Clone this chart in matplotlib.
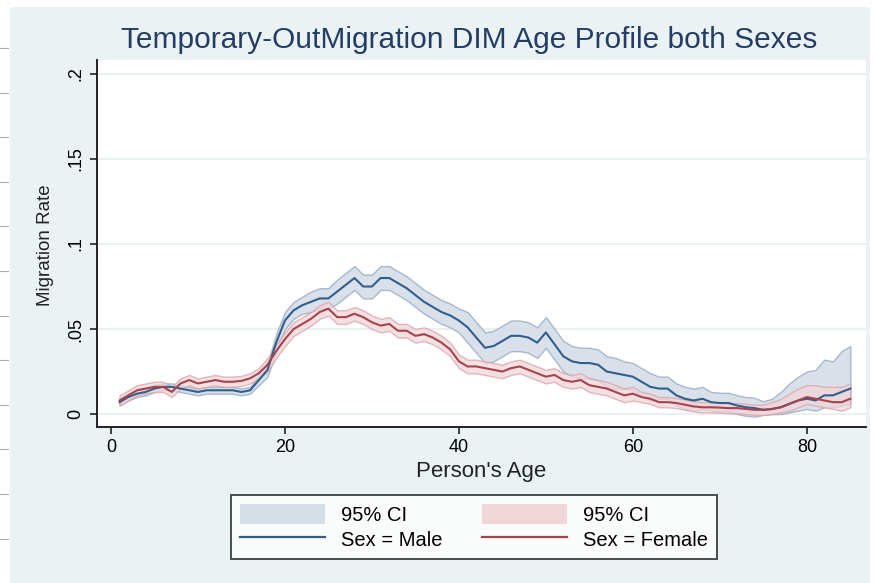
import numpy as np
import matplotlib
matplotlib.use("Agg")
import matplotlib.pyplot as plt
from matplotlib.patches import Rectangle, Patch
from matplotlib.lines import Line2D

plt.rcParams['font.family'] = ['Liberation Sans', 'DejaVu Sans']

# Data (age 1..85)
age = list(range(1, 86))

male = [0.007, 0.010, 0.012, 0.013, 0.015, 0.016, 0.016, 0.015, 0.014, 0.013,
        0.014, 0.014, 0.014, 0.014, 0.013, 0.014, 0.020, 0.026, 0.042, 0.055,
        0.061, 0.064, 0.066, 0.068, 0.068, 0.072, 0.076, 0.080, 0.075, 0.075,
        0.080, 0.080, 0.077, 0.074, 0.070, 0.066, 0.063, 0.060, 0.058, 0.055,
        0.051, 0.045, 0.039, 0.040, 0.043, 0.046, 0.046, 0.045, 0.042, 0.048,
        0.041, 0.034, 0.031, 0.030, 0.030, 0.029, 0.025, 0.024, 0.023, 0.022,
        0.019, 0.016, 0.015, 0.015, 0.011, 0.009, 0.008, 0.009, 0.007, 0.0065,
        0.0065, 0.005, 0.004, 0.0035, 0.0025, 0.003, 0.004, 0.006, 0.008, 0.009,
        0.008, 0.011, 0.011, 0.013, 0.015]

female = [0.008, 0.011, 0.014, 0.015, 0.016, 0.016, 0.013, 0.018, 0.020, 0.018,
          0.019, 0.020, 0.019, 0.019, 0.0195, 0.021, 0.024, 0.029, 0.037, 0.044,
          0.050, 0.053, 0.056, 0.060, 0.062, 0.057, 0.057, 0.059, 0.057, 0.054,
          0.052, 0.053, 0.049, 0.049, 0.046, 0.047, 0.045, 0.042, 0.038, 0.031,
          0.028, 0.028, 0.027, 0.026, 0.025, 0.027, 0.028, 0.026, 0.024, 0.022,
          0.023, 0.020, 0.019, 0.020, 0.017, 0.016, 0.015, 0.013, 0.011, 0.012,
          0.010, 0.009, 0.007, 0.007, 0.0065, 0.0055, 0.0045, 0.004, 0.004, 0.0038,
          0.0035, 0.0035, 0.003, 0.0025, 0.0025, 0.003, 0.004, 0.006, 0.008, 0.010,
          0.009, 0.008, 0.007, 0.007, 0.009]

# 95% CI distance above / below the line
male_up = [0.002] * 16 + [0.003, 0.004, 0.005, 0.005, 0.005, 0.005, 0.006, 0.006, 0.006] \
    + [0.007] * 15 + [0.009] * 18 + [0.008] * 4 + [0.007] * 6 + [0.006] * 6 \
    + [0.005, 0.006, 0.009, 0.012, 0.014, 0.016, 0.018, 0.021, 0.020, 0.024, 0.025]
male_dn = [0.002] * 16 + [0.003, 0.004, 0.005, 0.005, 0.005, 0.005, 0.006, 0.006, 0.006] \
    + [0.007] * 15 + [0.009] * 18 + [0.008] * 4 + [0.006] * 6 + [0.005] * 6 \
    + [0.003, 0.003, 0.004, 0.005, 0.006, 0.006, 0.006, 0.007, 0.007, 0.008, 0.009]
female_up = [0.003] * 17 + [0.004] * 43 + [0.003] * 15 \
    + [0.004, 0.005, 0.006, 0.007, 0.007, 0.008, 0.008, 0.009, 0.009, 0.009]
female_dn = [0.003] * 17 + [0.004] * 43 + [0.003] * 15 \
    + [0.003, 0.003, 0.004, 0.004, 0.004, 0.004, 0.004, 0.004, 0.005, 0.005]

xticks = [0, 20, 40, 60, 80]
yticks = [0, 0.05, 0.1, 0.15, 0.2]
ytick_labels = ['0', '.05', '.1', '.15', '.2']

W, H = 874, 583
bg = '#eaf2f3'
male_col, female_col = '#2f5f8e', '#a8424c'
male_fill, female_fill = '#d5dde7', '#f0d6d9'

fig = plt.figure(figsize=(W / 100, H / 100), dpi=100, facecolor='white')
fig.patches.append(Rectangle((10 / W, 0), 860 / W, 576 / H, transform=fig.transFigure,
                             facecolor=bg, edgecolor='none', zorder=-10))
# screenshot margin ticks on the left
for k in range(12):
    yy = 1 - (48 + 44.6 * k) / H
    fig.add_artist(Line2D([0, 8 / W], [yy, yy], transform=fig.transFigure, color='#a9b0b5', lw=0.8))

ax = fig.add_axes([97 / W, (H - 427) / H, (866 - 97) / W, (427 - 60) / H])
ax.set_facecolor('white')

a = np.array(age)
m = np.array(male)
f = np.array(female)
ax.fill_between(a, m - np.array(male_dn), m + np.array(male_up), facecolor=male_fill,
                edgecolor='#9fb3c8', lw=1.0, alpha=0.9, zorder=2)
ax.fill_between(a, f - np.array(female_dn), f + np.array(female_up), facecolor=female_fill,
                edgecolor='#dba2a8', lw=1.0, alpha=0.75, zorder=3)
ax.plot(a, m, color=male_col, lw=1.5, zorder=4)
ax.plot(a, f, color=female_col, lw=1.5, zorder=5)

ax.set_xlim(-1.6, 86.8)
ax.set_ylim(-0.0076, 0.2082)
ax.set_xticks(xticks)
ax.set_yticks(yticks)
ax.set_yticklabels(ytick_labels, rotation=90, va='center')
ax.tick_params(axis='both', length=5, width=1.2, color='#222222', labelsize=13, pad=4)
ax.yaxis.grid(True, color='#e8f0f2', lw=1.3)
ax.set_axisbelow(True)
for s in ['top', 'right']:
    ax.spines[s].set_visible(False)
for s in ['left', 'bottom']:
    ax.spines[s].set_color('#222222')
    ax.spines[s].set_linewidth(1.4)

fig.text(469 / W, 1 - 40 / H, 'Temporary-OutMigration DIM Age Profile both Sexes',
         ha='center', va='center', fontsize=21.5, color='#253d66')
fig.text(45 / W, 1 - 245 / H, 'Migration Rate', rotation=90, ha='center', va='center',
         fontsize=13.5, color='#222222')
fig.text(481 / W, 1 - 472 / H, "Person's Age", ha='center', va='center',
         fontsize=16, color='#222222')

handles = [Patch(facecolor=male_fill, edgecolor='none'),
           Line2D([], [], color=male_col, lw=1.6),
           Patch(facecolor=female_fill, edgecolor='none'),
           Line2D([], [], color=female_col, lw=1.6)]
labels = ['95% CI', 'Sex = Male', '95% CI', 'Sex = Female']
leg = fig.legend(handles, labels, ncol=2, loc='center', bbox_to_anchor=(474 / W, 1 - 527 / H),
                 fontsize=14.5, frameon=True, fancybox=False, handlelength=4.2,
                 handleheight=1.1, columnspacing=2.0, labelspacing=0.2, borderpad=0.45,
                 handletextpad=0.8)
leg.get_frame().set_edgecolor('#222222')
leg.get_frame().set_linewidth(1.4)

fig.savefig('out.png', dpi=100)
